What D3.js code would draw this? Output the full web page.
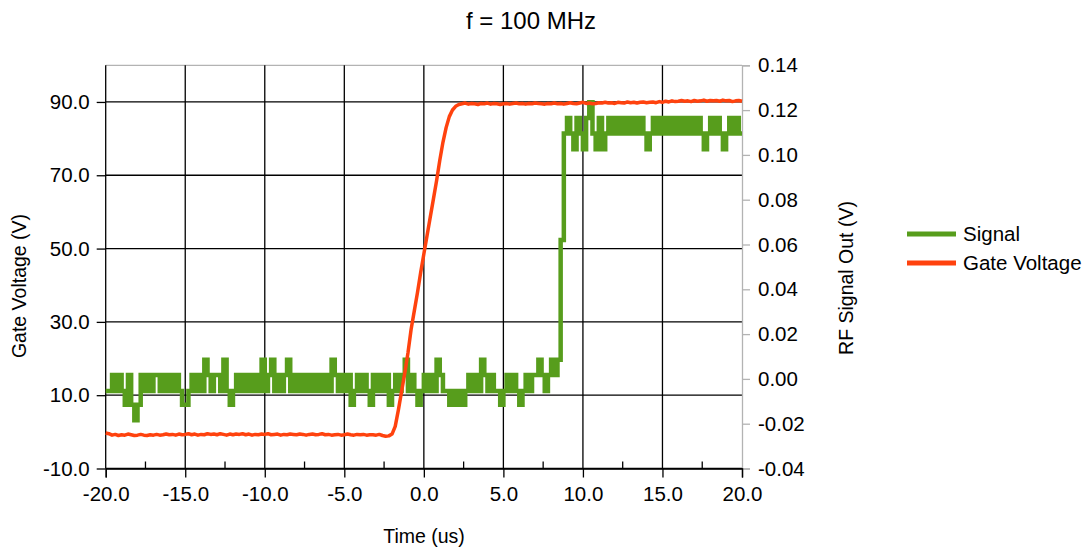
<!DOCTYPE html>
<html>
<head>
<meta charset="utf-8">
<script src="https://d3js.org/d3.v7.min.js"></script>
<style>
  body { margin: 0; background: #fff; }
  svg { display: block; font-family: "Liberation Sans", Arial, sans-serif; }
</style>
</head>
<body>
<svg width="1091" height="552"></svg>
<script>
// samples every 0.2 us starting at -20 us
var tStart = -20, tStep = 0.2;

// Gate Voltage (V), left axis
var gateVoltage = [
  -0.3,-0.5,-0.9,-0.7,-1.0,-0.8,-0.9,-0.6,-0.8,-1.0,
  -0.9,-0.7,-0.9,-1.0,-0.8,-0.9,-0.7,-0.9,-0.8,-0.6,
  -0.8,-0.7,-0.9,-0.6,-0.8,-0.7,-0.5,-0.8,-0.6,-0.9,
  -0.7,-0.8,-0.5,-0.7,-0.6,-0.8,-0.5,-0.7,-0.9,-0.6,
  -0.8,-0.6,-0.7,-0.5,-0.8,-0.6,-0.9,-0.7,-0.8,-0.6,
  -0.7,-0.5,-0.8,-0.7,-0.6,-0.9,-0.7,-0.8,-0.6,-0.7,
  -0.8,-0.6,-0.7,-0.9,-0.7,-0.6,-0.8,-0.7,-0.5,-0.8,
  -0.7,-0.9,-0.8,-0.7,-0.9,-0.8,-0.6,-0.8,-0.9,-0.7,
  -0.8,-0.7,-0.9,-0.8,-0.8,-0.9,-0.7,-1.0,-1.2,-1.1,
  -0.6,1.5,6,11,16,21.5,28,33,38,43.5,
  48.5,53.5,58.5,63.5,68.5,74,79,83,86,87.8,
  88.8,89.3,
  89.5,89.7,89.4,89.6,89.5,89.3,89.6,89.5,89.7,89.4,
  89.6,89.5,89.3,89.5,89.6,89.4,89.6,89.7,89.5,89.6,
  89.4,89.6,89.5,89.7,89.6,89.5,89.4,89.6,89.5,89.7,
  89.5,89.6,89.4,89.6,89.8,89.6,89.5,89.7,89.9,89.6,
  89.7,89.5,89.6,89.8,89.7,89.9,89.7,89.8,89.6,89.9,
  89.8,89.7,90.0,89.8,89.9,89.7,89.9,90.0,89.8,89.9,
  90.0,89.8,90.1,89.9,90.2,90.0,90.3,90.1,90.2,90.4,
  90.2,90.3,90.1,90.4,90.2,90.3,90.5,90.2,90.4,90.3,
  90.4,90.2,90.5,90.3,90.4,90.1,90.3,90.4,90.2
];

// RF Signal Out (V), right axis
var signal = [
  -0.0054,-0.0054,0.0017,-0.0054,0.0017, -0.0054,-0.0115,0.0017,-0.0115,-0.0185,
  -0.0115,0.0017,-0.0054,0.0017,-0.0054, 0.0017,0.0017,-0.0054,0.0017,-0.0054,
  0.0017,-0.0054,0.0017,-0.0054,-0.0115, -0.0115,-0.0054,0.0017,-0.0054,0.0017,
  -0.0054,0.0085,0.0017,-0.0054,0.0017, 0.0017,-0.0054,0.0085,-0.0054,-0.0115,
  -0.0054,0.0017,-0.0054,0.0017,-0.0054, 0.0017,-0.0054,0.0017,-0.0054,0.0085,
  -0.0054,0.0017,0.0085,-0.0054,0.0017, -0.0054,0.0017,0.0085,-0.0054,0.0017,
  -0.0054,0.0017,-0.0054,0.0017,-0.0054, 0.0017,-0.0054,0.0017,-0.0054,0.0017,
  -0.0054,0.0085,0.0017,-0.0054,0.0017, -0.0054,0.0017,-0.0115,-0.0054,0.0017,
  -0.0054,0.0017,-0.0054,-0.0115,0.0017, -0.0054,0.0017,-0.0054,0.0017,-0.0115,
  -0.0054,0.0017,-0.0054,0.0017,0.0085, -0.0054,0.0017,-0.0054,-0.0115,-0.0054,
  0.0017,-0.0054,0.0017,-0.0054,0.0085, 0.0017,-0.0054,-0.0054,-0.0115,-0.0054,
  -0.0115,-0.0054,-0.0115,-0.0054,0.0017, -0.0054,0.0017,-0.0054,0.0085,0.0017,
  -0.0054,0.0017,-0.0054,-0.0054,-0.0115, -0.0054,0.0017,-0.0054,0.0017,-0.0054,
  -0.0115,-0.0054,0.0017,-0.0054,0.0017, 0.0017,0.0085,0.0017,-0.0054,0.0017,
  0.0085,0.0017,0.0085,0.062,
  0.1095,
  0.1165,0.1095,0.1025,0.1165,0.1095, 0.1025,0.1165,0.1235,0.1095,0.1025,
  0.1165,0.1025,0.1095,0.1165,0.1095, 0.1165,0.1095,0.1165,0.1095,0.1165,
  0.1095,0.1165,0.1095,0.1165,0.1095, 0.1025,0.1095,0.1165,0.1095,0.1165,
  0.1095,0.1165,0.1095,0.1165,0.1095, 0.1165,0.1095,0.1165,0.1095,0.1165,
  0.1095,0.1165,0.1095,0.1025,0.1095, 0.1165,0.1095,0.1165,0.1095,0.1025,
  0.1095,0.1165,0.1095,0.1165,0.1095,0.1095
];

var xTicks = [-20, -15, -10, -5, 0, 5, 10, 15, 20];
var xMinorTicks = [-17.5, -12.5, -7.5, -2.5, 2.5, 7.5, 12.5, 17.5];
var leftTicks = [-10, 10, 30, 50, 70, 90];
var rightTicks = [-0.04, -0.02, 0, 0.02, 0.04, 0.06, 0.08, 0.10, 0.12, 0.14];

var seriesNames = ["Signal", "Gate Voltage"];
var colors = { "Signal": "#579d1c", "Gate Voltage": "#ff420e" };

// plain hyphen for negative numbers, like the original
var locale = d3.formatLocale({ decimal: ".", thousands: ",", grouping: [3], currency: ["", ""], minus: "-" });
var fmt1 = locale.format(".1f"), fmt2 = locale.format(".2f");

var svg = d3.select("svg");
var plot = { left: 105.7, right: 742, top: 65.3, bottom: 468.5 };

var x = d3.scaleLinear().domain([-20, 20]).range([plot.left, plot.right]);
var yL = d3.scaleLinear().domain([-10, 100]).range([plot.bottom, plot.top]);
var yR = d3.scaleLinear().domain([-0.04, 0.14]).range([plot.bottom, plot.top]);

function t(i) { return tStart + i * tStep; }

// top border (gray)
svg.append("line")
  .attr("x1", plot.left).attr("x2", plot.right)
  .attr("y1", plot.top).attr("y2", plot.top)
  .attr("stroke", "#b3b3b3").attr("stroke-width", 1.3);

// horizontal grid
svg.append("g").selectAll("line")
  .data(leftTicks)
  .enter().append("line")
  .attr("x1", plot.left).attr("x2", plot.right)
  .attr("y1", function (d) { return yL(d); })
  .attr("y2", function (d) { return yL(d); })
  .attr("stroke", "#000").attr("stroke-width", 1.3);

// vertical grid
svg.append("g").selectAll("line")
  .data(xTicks.slice(0, -1))
  .enter().append("line")
  .attr("x1", function (d) { return x(d); })
  .attr("x2", function (d) { return x(d); })
  .attr("y1", plot.top).attr("y2", plot.bottom)
  .attr("stroke", "#000").attr("stroke-width", 1.3);

// right axis (gray)
var gR = svg.append("g")
  .attr("transform", "translate(" + plot.right + ",0)")
  .call(d3.axisRight(yR).tickValues(rightTicks).tickSize(8).tickPadding(8)
    .tickFormat(fmt2));
gR.select(".domain").attr("stroke", "#b3b3b3").attr("stroke-width", 1.3);
gR.selectAll(".tick line").attr("stroke", "#b3b3b3").attr("stroke-width", 1.3);
gR.selectAll(".tick text")
  .attr("font-size", 20.5).attr("fill", "#000")
  .attr("font-family", "Liberation Sans, Arial, sans-serif");

// left axis
var gL = svg.append("g")
  .attr("transform", "translate(" + plot.left + ",0)")
  .call(d3.axisLeft(yL).tickValues(leftTicks).tickSize(9).tickPadding(7)
    .tickFormat(fmt1));
gL.select(".domain").remove();
gL.selectAll(".tick line").attr("stroke", "#000").attr("stroke-width", 1.3);
gL.selectAll(".tick text")
  .attr("font-size", 20.5).attr("fill", "#000")
  .attr("font-family", "Liberation Sans, Arial, sans-serif");

// bottom axis
var gB = svg.append("g")
  .attr("transform", "translate(0," + plot.bottom + ")")
  .call(d3.axisBottom(x).tickValues(xTicks).tickSize(9).tickPadding(9)
    .tickFormat(fmt1));
gB.select(".domain").attr("stroke", "#000").attr("stroke-width", 1.3);
gB.selectAll(".tick line").attr("stroke", "#000").attr("stroke-width", 1.3);
gB.selectAll(".tick text")
  .attr("font-size", 20.5).attr("fill", "#000")
  .attr("font-family", "Liberation Sans, Arial, sans-serif");

// minor x ticks pointing up
svg.append("g").selectAll("line")
  .data(xMinorTicks)
  .enter().append("line")
  .attr("x1", function (d) { return x(d); })
  .attr("x2", function (d) { return x(d); })
  .attr("y1", plot.bottom).attr("y2", plot.bottom - 7)
  .attr("stroke", "#000").attr("stroke-width", 1.3);

// lines
var lineSignal = d3.line()
  .curve(d3.curveStepAfter)
  .x(function (d, i) { return x(t(i)); })
  .y(function (d) { return yR(d); });
var lineGate = d3.line()
  .x(function (d, i) { return x(t(i)); })
  .y(function (d) { return yL(d); });

svg.append("path")
  .datum(signal)
  .attr("fill", "none")
  .attr("stroke", colors["Signal"])
  .attr("stroke-width", 4.5)
  .attr("d", lineSignal);

svg.append("path")
  .datum(gateVoltage)
  .attr("fill", "none")
  .attr("stroke", colors["Gate Voltage"])
  .attr("stroke-width", 3.5)
  .attr("stroke-linejoin", "round")
  .attr("d", lineGate);

// title
svg.append("text")
  .attr("x", 531).attr("y", 29)
  .attr("text-anchor", "middle")
  .attr("font-size", 24)
  .text("f = 100 MHz");

// axis titles
svg.append("text")
  .attr("x", 424).attr("y", 543)
  .attr("text-anchor", "middle")
  .attr("font-size", 19.5)
  .text("Time (us)");

svg.append("text")
  .attr("transform", "translate(26,286) rotate(-90)")
  .attr("text-anchor", "middle")
  .attr("font-size", 19.5)
  .text("Gate Voltage (V)");

svg.append("text")
  .attr("transform", "translate(853,278) rotate(-90)")
  .attr("text-anchor", "middle")
  .attr("font-size", 19.5)
  .text("RF Signal Out (V)");

// legend
var legend = svg.append("g").attr("transform", "translate(907,234)");
seriesNames.forEach(function (name, i) {
  legend.append("line")
    .attr("x1", 0).attr("x2", 49)
    .attr("y1", i * 29).attr("y2", i * 29)
    .attr("stroke", colors[name]).attr("stroke-width", 5);
  legend.append("text")
    .attr("x", 56).attr("y", i * 29)
    .attr("dy", "0.35em")
    .attr("font-size", 20.5)
    .text(name);
});
</script>
</body>
</html>
